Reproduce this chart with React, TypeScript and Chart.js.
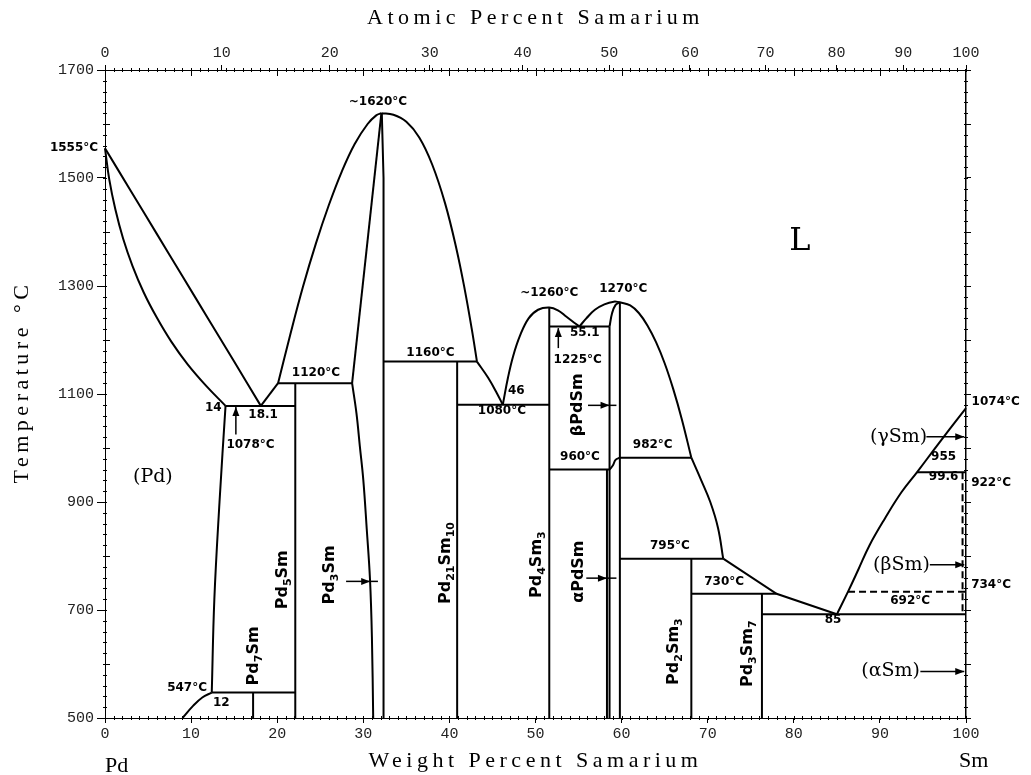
import { useEffect, useRef } from 'react';
import { Chart, registerables } from 'chart.js';

Chart.register(...registerables);

type Pt = [number, number];

// ---------- axis ticks ----------
const xTicks = [0, 10, 20, 30, 40, 50, 60, 70, 80, 90, 100];
const yTicks = [500, 700, 900, 1100, 1300, 1500, 1700];
const atomicTicks = [0, 10, 20, 30, 40, 50, 60, 70, 80, 90, 100];

// ---------- phase boundaries (wt% Sm, °C) ----------
// curved boundaries
const pdLiquidus: Pt[] = [[0, 1555], [3, 1476], [6, 1397], [9, 1318], [12, 1239], [15, 1160], [18.1, 1078]];
const pdSolidus: Pt[] = [[0, 1555], [0.5, 1497], [1.2, 1442], [2.1, 1388], [3.2, 1337], [4.5, 1288], [6.0, 1242], [7.7, 1197], [9.6, 1155], [11.7, 1116], [14, 1078]];
const pdSolvus: Pt[] = [[14, 1078], [13.3, 900], [12.7, 720], [12.4, 547]];
const lowCurve: Pt[] = [[9.0, 500], [10.2, 522], [11.3, 538], [12.4, 547]];
const pd3SmLiqL: Pt[] = [[20.1, 1120], [21.5, 1209], [23.0, 1299], [24.5, 1379], [26.0, 1450], [27.5, 1512], [29.0, 1563], [30.5, 1600], [31.5, 1616], [32.1, 1620]];
const pd3SmLiqR: Pt[] = [[32.1, 1620], [33.5, 1617], [35.0, 1604], [36.5, 1575], [38.0, 1525], [39.5, 1453], [40.8, 1370], [41.8, 1292], [42.6, 1220], [43.2, 1160]];
const pd3SmSolvus: Pt[] = [[28.7, 1120], [29.2, 1065], [29.6, 1003], [30.0, 941], [30.4, 850], [30.78, 756], [31.0, 650], [31.15, 500]];
const liqEut2: Pt[] = [[43.2, 1160], [44.5, 1130], [45.5, 1102], [46.2, 1080]];
const pd4Sm3Liq: Pt[] = [[46.2, 1080], [46.8, 1130], [47.4, 1170], [48.2, 1208], [49.2, 1240], [50.3, 1256], [51.6, 1260], [52.6, 1255], [53.6, 1243], [54.5, 1232], [55.1, 1225]];
const pdSmLiqL: Pt[] = [[55.1, 1225], [55.9, 1240], [56.9, 1256], [58.0, 1266], [59.1, 1271], [59.8, 1270]];
const pdSmLiqR: Pt[] = [[59.8, 1270], [61.0, 1264], [62.0, 1250], [63.0, 1227], [64.0, 1196], [65.0, 1157], [66.0, 1109], [67.0, 1053], [68.1, 982]];
const liqBelow982: Pt[] = [[68.1, 982], [69.2, 942], [70.3, 900], [71.2, 852], [71.8, 795]];
const pdSmTop: Pt[] = [[58.6, 1225], [58.9, 1250], [59.3, 1265], [59.8, 1270]];
const pdSmStep: Pt[] = [[58.6, 960], [59.0, 968], [59.3, 978], [59.8, 982]];
const smLiquidus: Pt[] = [[85, 692], [86.3, 734], [87.5, 775], [88.8, 820], [90.6, 870], [92.5, 918], [94.3, 955], [96.2, 995], [98.1, 1035], [100, 1074]];

// straight boundaries
const line547: Pt[] = [[12.4, 547], [22.1, 547]];
const pd7Sm: Pt[] = [[17.2, 500], [17.2, 547]];
const pd5Sm: Pt[] = [[22.1, 500], [22.1, 1120]];
const line1078: Pt[] = [[14, 1078], [22.1, 1078]];
const liqEut1: Pt[] = [[18.1, 1078], [20.1, 1120]];
const line1120: Pt[] = [[20.1, 1120], [28.7, 1120]];
const pd3SmLeft: Pt[] = [[32.1, 1620], [28.7, 1120]];
const pd3SmRight: Pt[] = [[32.15, 1620], [32.35, 1500], [32.35, 500]];
const line1160: Pt[] = [[32.35, 1160], [43.2, 1160]];
const pd21Sm10: Pt[] = [[40.9, 500], [40.9, 1160]];
const line1080: Pt[] = [[40.9, 1080], [51.6, 1080]];
const pd4Sm3: Pt[] = [[51.6, 500], [51.6, 1260]];
const line1225: Pt[] = [[51.6, 1225], [58.6, 1225]];
const line960: Pt[] = [[51.6, 960], [58.6, 960]];
const pdSmLeft: Pt[] = [[58.6, 500], [58.6, 1225]];
const pdSmLeft2: Pt[] = [[58.3, 500], [58.3, 960]];
const pdSmRight: Pt[] = [[59.8, 500], [59.8, 1270]];
const line982: Pt[] = [[59.8, 982], [68.1, 982]];
const line795: Pt[] = [[59.8, 795], [71.8, 795]];
const liqLow: Pt[] = [[71.8, 795], [78.0, 730], [85, 692]];
const pd2Sm3: Pt[] = [[68.1, 500], [68.1, 795]];
const line730: Pt[] = [[68.1, 730], [78.0, 730]];
const pd3Sm7: Pt[] = [[76.3, 500], [76.3, 730]];
const line692: Pt[] = [[76.3, 692], [100, 692]];
const line955: Pt[] = [[94.3, 955], [100, 955]];

// dashed boundaries
const line734: Pt[] = [[86.3, 734], [100, 734]];
const smSolvus: Pt[] = [[99.6, 955], [99.6, 692]];

const curvedLines: Pt[][] = [
  pdLiquidus, pdSolidus, pdSolvus, lowCurve, pd3SmLiqL, pd3SmLiqR, pd3SmSolvus, liqEut2,
  pd4Sm3Liq, pdSmLiqL, pdSmLiqR, liqBelow982, pdSmTop, pdSmStep, smLiquidus,
];
const straightLines: Pt[][] = [
  line547, pd7Sm, pd5Sm, line1078, liqEut1, line1120, pd3SmLeft, pd3SmRight, line1160, pd21Sm10,
  line1080, pd4Sm3, line1225, line960, pdSmLeft, pdSmLeft2, pdSmRight, line982, line795, liqLow,
  pd2Sm3, line730, pd3Sm7, line692, line955,
];
const dashedLines: Pt[][] = [line734, smSolvus];

// ---------- annotations ----------
const tempLabels: { text: string; x: number; t: number; align: CanvasTextAlign }[] = [
  { text: '1555°C', x: -0.8, t: 1555, align: 'right' },
  { text: '~1620°C', x: 31.7, t: 1641, align: 'center' },
  { text: '1120°C', x: 21.7, t: 1139, align: 'left' },
  { text: '14', x: 13.55, t: 1074, align: 'right' },
  { text: '18.1', x: 16.65, t: 1061, align: 'left' },
  { text: '1078°C', x: 14.1, t: 1006, align: 'left' },
  { text: '1160°C', x: 35.0, t: 1177, align: 'left' },
  { text: '46', x: 46.8, t: 1105, align: 'left' },
  { text: '1080°C', x: 43.3, t: 1068, align: 'left' },
  { text: '~1260°C', x: 51.6, t: 1287, align: 'center' },
  { text: '1270°C', x: 60.2, t: 1294, align: 'center' },
  { text: '55.1', x: 54.0, t: 1214, align: 'left' },
  { text: '1225°C', x: 52.1, t: 1163, align: 'left' },
  { text: '960°C', x: 52.85, t: 984, align: 'left' },
  { text: '982°C', x: 61.3, t: 1006, align: 'left' },
  { text: '795°C', x: 63.3, t: 818, align: 'left' },
  { text: '730°C', x: 69.6, t: 752, align: 'left' },
  { text: '692°C', x: 91.2, t: 716, align: 'left' },
  { text: '85', x: 84.55, t: 682, align: 'center' },
  { text: '955', x: 97.4, t: 984, align: 'center' },
  { text: '99.6', x: 97.4, t: 947, align: 'center' },
  { text: '1074°C', x: 100.65, t: 1086, align: 'left' },
  { text: '922°C', x: 100.6, t: 936, align: 'left' },
  { text: '734°C', x: 100.6, t: 747, align: 'left' },
  { text: '547°C', x: 11.85, t: 556, align: 'right' },
  { text: '12', x: 13.5, t: 528, align: 'center' },
];

const regionLabels: { text: string; x: number; t: number; align: CanvasTextAlign; size: number }[] = [
  { text: '(Pd)', x: 3.25, t: 947, align: 'left', size: 19 },
  { text: '(γSm)', x: 95.5, t: 1021, align: 'right', size: 19 },
  { text: '(βSm)', x: 95.8, t: 784, align: 'right', size: 19 },
  { text: '(αSm)', x: 94.65, t: 586, align: 'right', size: 19 },
  { text: 'L', x: 80.7, t: 1382, align: 'center', size: 32 },
];

const phaseLabels: { text: string; x: number; t: number }[] = [
  { text: 'Pd_7Sm', x: 17.3, t: 615 },
  { text: 'Pd_5Sm', x: 20.7, t: 756 },
  { text: 'Pd_3Sm', x: 26.1, t: 765 },
  { text: 'Pd_{21}Sm_{10}', x: 39.6, t: 787 },
  { text: 'Pd_4Sm_3', x: 50.2, t: 784 },
  { text: 'αPdSm', x: 55.05, t: 771 },
  { text: 'βPdSm', x: 54.9, t: 1080 },
  { text: 'Pd_2Sm_3', x: 66.1, t: 623 },
  { text: 'Pd_3Sm_7', x: 74.7, t: 619 },
];

const arrowDefs: { tail: Pt; head: Pt; end?: Pt }[] = [
  { tail: [15.2, 1025], head: [15.2, 1076] },
  { tail: [52.65, 1185], head: [52.65, 1222] },
  { tail: [56.1, 1079], head: [58.6, 1079], end: [59.4, 1079] },
  { tail: [55.9, 759], head: [58.3, 759], end: [59.4, 759] },
  { tail: [28.0, 753], head: [30.8, 753], end: [31.7, 753] },
  { tail: [95.4, 1021], head: [99.8, 1021] },
  { tail: [95.8, 784], head: [99.8, 784] },
  { tail: [94.7, 586], head: [99.8, 586] },
];

const atToWt = (a: number) => ((a * 150.36) / (a * 150.36 + (100 - a) * 106.42)) * 100;

const NUM_FONT = 'bold 12px "DejaVu Sans"';
const TICK_FONT = { family: 'Liberation Mono', size: 15 };

function parseSub(s: string): { t: string; sub: boolean }[] {
  const out: { t: string; sub: boolean }[] = [];
  let i = 0;
  let buf = '';
  while (i < s.length) {
    if (s[i] === '_') {
      if (buf) out.push({ t: buf, sub: false });
      buf = '';
      if (s[i + 1] === '{') {
        const j = s.indexOf('}', i);
        out.push({ t: s.slice(i + 2, j), sub: true });
        i = j + 1;
      } else {
        out.push({ t: s[i + 1], sub: true });
        i += 2;
      }
    } else {
      buf += s[i];
      i++;
    }
  }
  if (buf) out.push({ t: buf, sub: false });
  return out;
}

const annotPlugin = {
  id: 'annot',
  afterDatasetsDraw(chart: any) {
    const ctx: CanvasRenderingContext2D = chart.ctx;
    const xs = chart.scales.x;
    const ys = chart.scales.y;
    const ca = chart.chartArea;
    const X = (v: number) => xs.getPixelForValue(v);
    const Y = (v: number) => ys.getPixelForValue(v);
    ctx.save();
    ctx.fillStyle = '#000';
    ctx.strokeStyle = '#000';

    // minor ticks
    ctx.lineWidth = 1;
    ctx.beginPath();
    for (let v = 0; v <= 100; v += 1) {
      const px = Math.round(X(v)) + 0.5;
      ctx.moveTo(px, ca.bottom - 2);
      ctx.lineTo(px, ca.bottom + 2);
      ctx.moveTo(px, ca.top - 2);
      ctx.lineTo(px, ca.top + 2);
    }
    for (let v = 10; v < 100; v += 10) {
      const px = Math.round(X(v)) + 0.5;
      ctx.moveTo(px, ca.top);
      ctx.lineTo(px, ca.top + 6);
    }
    for (let t = 500; t <= 1700; t += 20) {
      const py = Math.round(Y(t)) + 0.5;
      ctx.moveTo(ca.left - 2, py);
      ctx.lineTo(ca.left + 2, py);
      ctx.moveTo(ca.right - 2, py);
      ctx.lineTo(ca.right + 2, py);
    }
    for (let t = 600; t < 1700; t += 200) {
      const py = Math.round(Y(t)) + 0.5;
      ctx.moveTo(ca.left, py);
      ctx.lineTo(ca.left + 5, py);
      ctx.moveTo(ca.right, py);
      ctx.lineTo(ca.right + 5, py);
    }
    ctx.stroke();

    // arrows
    ctx.lineWidth = 1.5;
    for (const a of arrowDefs) {
      const tx = X(a.tail[0]), ty = Y(a.tail[1]);
      const hx = X(a.head[0]), hy = Y(a.head[1]);
      const ex = a.end ? X(a.end[0]) : hx, ey = a.end ? Y(a.end[1]) : hy;
      ctx.beginPath();
      ctx.moveTo(tx, ty);
      ctx.lineTo(ex, ey);
      ctx.stroke();
      const ang = Math.atan2(hy - ty, hx - tx);
      const L = 9, W = 3.5;
      ctx.beginPath();
      ctx.moveTo(hx, hy);
      ctx.lineTo(hx - L * Math.cos(ang) + W * Math.sin(ang), hy - L * Math.sin(ang) - W * Math.cos(ang));
      ctx.lineTo(hx - L * Math.cos(ang) - W * Math.sin(ang), hy - L * Math.sin(ang) + W * Math.cos(ang));
      ctx.closePath();
      ctx.fill();
    }

    // temperature / composition numbers
    ctx.font = NUM_FONT;
    ctx.textBaseline = 'middle';
    for (const l of tempLabels) {
      ctx.textAlign = l.align;
      ctx.fillText(l.text, X(l.x), Y(l.t));
    }

    // region labels (serif)
    for (const l of regionLabels) {
      ctx.font = `${l.size}px "DejaVu Serif"`;
      ctx.textAlign = l.align;
      ctx.fillText(l.text, X(l.x), Y(l.t));
    }

    // rotated phase labels with subscripts
    const mainF = 'bold 16px "DejaVu Sans"';
    const subF = 'bold 11px "DejaVu Sans"';
    for (const l of phaseLabels) {
      const segs = parseSub(l.text);
      let w = 0;
      for (const s of segs) {
        ctx.font = s.sub ? subF : mainF;
        w += ctx.measureText(s.t).width;
      }
      ctx.save();
      ctx.translate(X(l.x), Y(l.t));
      ctx.rotate(-Math.PI / 2);
      ctx.textAlign = 'left';
      ctx.textBaseline = 'middle';
      let cx = -w / 2;
      for (const s of segs) {
        ctx.font = s.sub ? subF : mainF;
        ctx.fillText(s.t, cx, s.sub ? 5 : 0);
        cx += ctx.measureText(s.t).width;
      }
      ctx.restore();
    }

    // axis titles and end labels
    const midX = (ca.left + ca.right) / 2;
    ctx.font = '22px "Liberation Serif"';
    (ctx as any).letterSpacing = '4.5px';
    ctx.textAlign = 'center';
    ctx.textBaseline = 'middle';
    ctx.fillText('Atomic Percent Samarium', midX, 18);
    ctx.fillText('Weight Percent Samarium', midX, ca.bottom + 43);
    ctx.save();
    ctx.translate(ca.left - 83, (ca.top + ca.bottom) / 2 - 12);
    ctx.rotate(-Math.PI / 2);
    ctx.fillText('Temperature °C', 0, 0);
    ctx.restore();
    (ctx as any).letterSpacing = '0px';
    ctx.textAlign = 'left';
    ctx.fillText('Pd', X(0), ca.bottom + 48);
    ctx.fillText('Sm', X(99.2), ca.bottom + 43);
    ctx.restore();
  },
};

function lineDataset(pts: Pt[], tension: number, dash: number[] = []) {
  return {
    data: pts.map(([x, y]) => ({ x, y })),
    borderColor: '#000',
    borderWidth: 2,
    borderDash: dash,
    showLine: true,
    pointRadius: 0,
    tension,
    clip: false,
  };
}

export default function App() {
  const ref = useRef<HTMLCanvasElement>(null);
  useEffect(() => {
    document.body.style.margin = '0';
    const datasets: any[] = [
      ...curvedLines.map((pts) => lineDataset(pts, 0.4)),
      ...straightLines.map((pts) => lineDataset(pts, 0)),
      ...dashedLines.map((pts) => lineDataset(pts, 0, [7, 4])),
    ];
    const plain = (v: any) => String(v);
    const chart = new Chart(ref.current!, {
      type: 'scatter',
      data: { datasets },
      options: {
        responsive: false,
        animation: false,
        layout: { padding: 0 },
        plugins: { legend: { display: false }, tooltip: { enabled: false } },
        scales: {
          x: {
            type: 'linear',
            position: 'bottom',
            min: 0,
            max: 100,
            afterBuildTicks: (s: any) => { s.ticks = xTicks.map((v) => ({ value: v })); },
            ticks: { font: TICK_FONT, color: '#222', padding: 2, maxRotation: 0, autoSkip: false, callback: plain },
            grid: { drawOnChartArea: false, tickLength: 5, color: '#000' },
            border: { color: '#000', width: 1 },
            afterFit: (s: any) => { s.height = 57; },
          },
          xTop: {
            type: 'linear',
            position: 'top',
            min: 0,
            max: 100,
            afterBuildTicks: (s: any) => { s.ticks = atomicTicks.map((a) => ({ value: atToWt(a) })); },
            ticks: {
              font: TICK_FONT,
              color: '#222',
              padding: 3,
              maxRotation: 0,
              autoSkip: false,
              callback: (_v: any, i: number) => String(atomicTicks[i]),
            },
            grid: { drawOnChartArea: false, tickLength: 5, color: '#000' },
            border: { color: '#000', width: 1 },
            afterFit: (s: any) => { s.height = 70; },
          },
          y: {
            type: 'linear',
            position: 'left',
            min: 500,
            max: 1700,
            afterBuildTicks: (s: any) => { s.ticks = yTicks.map((v) => ({ value: v })); },
            ticks: { font: TICK_FONT, color: '#222', padding: 3, autoSkip: false, callback: plain },
            grid: { drawOnChartArea: false, tickLength: 8, color: '#000' },
            border: { color: '#000', width: 1 },
            afterFit: (s: any) => { s.width = 105; },
          },
          yRight: {
            type: 'linear',
            position: 'right',
            min: 500,
            max: 1700,
            afterBuildTicks: (s: any) => { s.ticks = yTicks.map((v) => ({ value: v })); },
            ticks: { display: false },
            grid: { drawOnChartArea: false, tickLength: 5, color: '#000' },
            border: { color: '#000', width: 1.5 },
            afterFit: (s: any) => { s.width = 65; },
          },
        },
      },
      plugins: [annotPlugin],
    } as any);
    return () => chart.destroy();
  }, []);
  return (
    <div style={{ width: 1031, height: 775, background: '#fff', overflow: 'hidden' }}>
      <canvas ref={ref} width={1031} height={775} style={{ display: 'block' }} />
    </div>
  );
}
